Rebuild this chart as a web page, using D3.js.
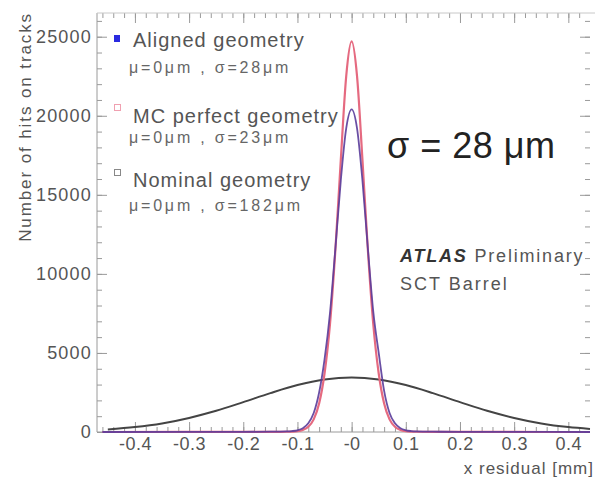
<!DOCTYPE html>
<html>
<head>
<meta charset="utf-8">
<script src="https://cdn.jsdelivr.net/npm/d3@7"></script>
<style>
  body { margin: 0; background: #fff; }
  text { font-family: "Liberation Sans", Arial, sans-serif; }
</style>
</head>
<body>
<div id="chart"></div>
<script>
// Data

var xWide = [-0.45, -0.4, -0.35, -0.3, -0.25, -0.2, -0.15, -0.1, -0.05, 0, 0.05, 0.1, 0.15, 0.2, 0.25, 0.3, 0.35, 0.4, 0.44];
var nominal = [160, 310, 540, 890, 1340, 1890, 2460, 2970, 3320, 3450, 3320, 2970, 2460, 1890, 1340, 890, 540, 310, 190];

var xNarrow = [-0.46, -0.3, -0.2, -0.15, -0.12, -0.11, -0.1, -0.09, -0.08, -0.07, -0.06, -0.05, -0.04, -0.03, -0.02, -0.01, 0,
               0.01, 0.02, 0.03, 0.04, 0.05, 0.06, 0.07, 0.08, 0.09, 0.1, 0.11, 0.12, 0.15, 0.2, 0.3, 0.44];
var aligned = [0, 5, 10, 20, 40, 60, 110, 240, 550, 1200, 2500, 4600, 7500, 11600, 15900, 19200, 20400,
               19200, 15900, 11600, 7600, 5000, 2600, 1200, 550, 240, 110, 60, 40, 20, 10, 5, 0];
var perfect = [0, 3, 5, 8, 15, 25, 50, 130, 330, 800, 1800, 3700, 6800, 11500, 17200, 22500, 24700,
               22500, 17200, 11500, 6800, 3700, 1800, 800, 330, 130, 50, 25, 15, 8, 5, 3, 0];

var xTicks = [-0.4, -0.3, -0.2, -0.1, 0, 0.1, 0.2, 0.3, 0.4];
var xTickLabels = ["-0.4", "-0.3", "-0.2", "-0.1", "-0", "0.1", "0.2", "0.3", "0.4"];
var yTicks = [0, 5000, 10000, 15000, 20000, 25000];

var legendNames = ["Aligned geometry", "MC perfect geometry", "Nominal geometry"];
var legendStats = ["\u03bc=0\u03bcm , \u03c3=28\u03bcm", "\u03bc=0\u03bcm , \u03c3=23\u03bcm", "\u03bc=0\u03bcm , \u03c3=182\u03bcm"];

// Frame

var width = 595, height = 480;
var frame = {left: 97, right: 590, top: 13, bottom: 432};

var svg = d3.select("#chart")
  .append("svg")
  .attr("width", width)
  .attr("height", height);

var xScale = d3.scaleLinear()
    .domain([-0.47, 0.44])
    .range([frame.left, frame.right]);

var yScale = d3.scaleLinear()
    .domain([0, 26500])
    .range([frame.bottom, frame.top]);

var axisColor = "#9a9a9a";

// ROOT style axes: ticks pointing into the frame on all four sides
var xMinor = d3.range(-0.46, 0.44, 0.02).map(function(d) { return Math.round(d * 100) / 100; });
var yMinor = d3.range(0, 26001, 1000);

svg.append("g")
  .attr("transform", `translate(0, ${frame.bottom})`)
  .call(d3.axisBottom(xScale).tickValues(xMinor).tickSize(-5).tickFormat(""))
  .call(g => g.select(".domain").remove())
  .selectAll("line").attr("stroke", axisColor);

svg.append("g")
  .attr("transform", `translate(0, ${frame.bottom})`)
  .call(d3.axisBottom(xScale).tickValues(xTicks).tickSize(-10).tickPadding(5)
    .tickFormat(function(d, i) { return xTickLabels[i]; }))
  .call(g => g.select(".domain").remove())
  .call(g => g.selectAll("line").attr("stroke", axisColor))
  .selectAll("text")
    .attr("font-size", "18px")
    .attr("letter-spacing", "0.5px")
    .attr("fill", "#555");

svg.append("g")
  .attr("transform", `translate(0, ${frame.top})`)
  .call(d3.axisTop(xScale).tickValues(xMinor).tickSize(-5).tickFormat(""))
  .call(g => g.select(".domain").remove())
  .selectAll("line").attr("stroke", axisColor);

svg.append("g")
  .attr("transform", `translate(0, ${frame.top})`)
  .call(d3.axisTop(xScale).tickValues(xTicks).tickSize(-10).tickFormat(""))
  .call(g => g.select(".domain").remove())
  .selectAll("line").attr("stroke", axisColor);

svg.append("g")
  .attr("transform", `translate(${frame.left}, 0)`)
  .call(d3.axisLeft(yScale).tickValues(yMinor).tickSize(-5).tickFormat(""))
  .call(g => g.select(".domain").remove())
  .selectAll("line").attr("stroke", axisColor);

svg.append("g")
  .attr("transform", `translate(${frame.left}, 0)`)
  .call(d3.axisLeft(yScale).tickValues(yTicks).tickSize(-10).tickPadding(5).tickFormat(d3.format("d")))
  .call(g => g.select(".domain").remove())
  .call(g => g.selectAll("line").attr("stroke", axisColor))
  .selectAll("text")
    .attr("font-size", "18px")
    .attr("letter-spacing", "1.2px")
    .attr("fill", "#555");

svg.append("g")
  .attr("transform", `translate(${frame.right}, 0)`)
  .call(d3.axisRight(yScale).tickValues(yMinor).tickSize(-5).tickFormat(""))
  .call(g => g.select(".domain").remove())
  .selectAll("line").attr("stroke", axisColor);

svg.append("g")
  .attr("transform", `translate(${frame.right}, 0)`)
  .call(d3.axisRight(yScale).tickValues(yTicks).tickSize(-10).tickFormat(""))
  .call(g => g.select(".domain").remove())
  .selectAll("line").attr("stroke", axisColor);

// frame lines
svg.append("line")
  .attr("x1", frame.left).attr("x2", frame.left)
  .attr("y1", frame.top).attr("y2", frame.bottom)
  .attr("stroke", axisColor);
svg.append("line")
  .attr("x1", frame.left).attr("x2", width)
  .attr("y1", frame.top).attr("y2", frame.top)
  .attr("stroke", "#c8c8c8");
svg.append("line")
  .attr("x1", frame.left).attr("x2", frame.right)
  .attr("y1", frame.bottom).attr("y2", frame.bottom)
  .attr("stroke", axisColor);

// Curves

var line = d3.line()
    .x(function(d) { return xScale(d[0]); })
    .y(function(d) { return yScale(d[1]); })
    .curve(d3.curveMonotoneX);

var plot = svg.append("g");

plot.append("path")
  .datum(d3.zip(xWide, nominal))
  .attr("fill", "none")
  .attr("stroke", "#444")
  .attr("stroke-width", 2)
  .attr("d", line);

plot.append("path")
  .datum(d3.zip(xNarrow, perfect))
  .attr("fill", "none")
  .attr("stroke", "#e56a80")
  .attr("stroke-width", 2.2)
  .attr("d", line);

plot.append("path")
  .datum(d3.zip(xNarrow, aligned))
  .attr("fill", "none")
  .attr("stroke", "#5a3c9a")
  .attr("stroke-width", 1.8)
  .attr("stroke-opacity", 0.9)
  .attr("d", line);

// Legend

var legendY = [47, 123, 187];
var statY = [73, 143, 211];

svg.append("rect")
  .attr("x", 114).attr("y", 35).attr("width", 6).attr("height", 7)
  .attr("fill", "#2a2ae0");
svg.append("rect")
  .attr("x", 114.5).attr("y", 104.5).attr("width", 6).attr("height", 6)
  .attr("fill", "none").attr("stroke", "#f0a0b0");
svg.append("rect")
  .attr("x", 114.5).attr("y", 169.5).attr("width", 6).attr("height", 6)
  .attr("fill", "none").attr("stroke", "#888");

svg.selectAll(".legendName")
  .data(legendNames)
  .enter().append("text")
  .attr("class", "legendName")
  .attr("x", 133)
  .attr("y", function(d, i) { return legendY[i]; })
  .attr("font-size", "20px")
  .attr("letter-spacing", "1px")
  .attr("fill", "#555")
  .text(function(d) { return d; });

svg.selectAll(".legendStat")
  .data(legendStats)
  .enter().append("text")
  .attr("class", "legendStat")
  .attr("x", 129)
  .attr("y", function(d, i) { return statY[i]; })
  .attr("font-size", "16px")
  .attr("letter-spacing", "2.8px")
  .attr("fill", "#666")
  .text(function(d) { return d; });

// Labels

svg.append("text")
  .attr("x", 387).attr("y", 158)
  .attr("font-size", "36px")
  .attr("letter-spacing", "0.5px")
  .attr("fill", "#222")
  .text("\u03c3 = 28 \u03bcm");

var atlas = svg.append("text")
  .attr("x", 400).attr("y", 262)
  .attr("font-size", "18px")
  .attr("letter-spacing", "1.8px")
  .attr("fill", "#555");
atlas.append("tspan")
  .attr("font-weight", "bold").attr("font-style", "italic").attr("fill", "#333")
  .text("ATLAS");
atlas.append("tspan").text(" Preliminary");

svg.append("text")
  .attr("x", 400).attr("y", 290)
  .attr("font-size", "18px")
  .attr("letter-spacing", "2px")
  .attr("fill", "#555")
  .text("SCT Barrel");

svg.append("text")
  .attr("transform", "rotate(-90)")
  .attr("x", -12).attr("y", 31)
  .attr("text-anchor", "end")
  .attr("font-size", "17px")
  .attr("letter-spacing", "1.9px")
  .attr("fill", "#555")
  .text("Number of hits on tracks");

svg.append("text")
  .attr("x", 594).attr("y", 474)
  .attr("text-anchor", "end")
  .attr("font-size", "17px")
  .attr("letter-spacing", "1px")
  .attr("fill", "#555")
  .text("x residual [mm]");
</script>
</body>
</html>
